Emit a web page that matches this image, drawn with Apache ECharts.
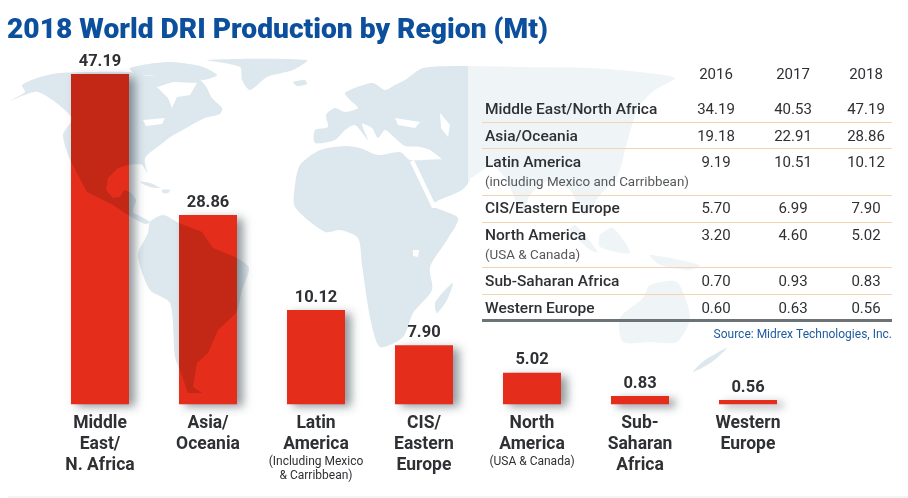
<!DOCTYPE html>
<html><head><meta charset="utf-8">
<script src="https://cdn.jsdelivr.net/npm/echarts@6/dist/echarts.min.js"></script>
<style>html,body{margin:0;padding:0;background:#fff}#c{width:908px;height:498px}</style></head>
<body><div id="c"></div>
<script>
// Bar chart content
const categories = [["Middle","East/","N. Africa"],["Asia/","Oceania"],["Latin","America"],["CIS/","Eastern","Europe"],["North","America"],["Sub-","Saharan","Africa"],["Western","Europe"]];
const categoryNotes = [[],[],["(Including Mexico","& Carribbean)"],[],["(USA & Canada)"],[],[]];
const printedValues = ["47.19","28.86","10.12","7.90","5.02","0.83","0.56"];
// The source's bars are not proportional to their printed values: these are the bar
// lengths as drawn, expressed on the scale of the tallest bar.
const drawnLengths = [47.19,27.05,13.48,8.44,4.52,1.19,0.61];

// Table content
const years = ["2016","2017","2018"];
const rowLabels = ["Middle East/North Africa","Asia/Oceania","Latin America","CIS/Eastern Europe","North America","Sub-Saharan Africa","Western Europe"];
const rowNotes = ["","","(including Mexico and Carribbean)","","(USA & Canada)","",""];
const values2016 = ["34.19","19.18","9.19","5.70","3.20","0.70","0.60"];
const values2017 = ["40.53","22.91","10.51","6.99","4.60","0.93","0.63"];
const values2018 = ["47.19","28.86","10.12","7.90","5.02","0.83","0.56"];

// Layout and style
const FONT = "Roboto";
const INK = "#2e3033";
const rowY = [110,137,163,209,236,282,309], noteY = [0,0,183,0,256,0,0];
const ruleY = [122,148,195,222,267,294];
const colX = [716,793,866];
// Decorative backdrop outlines (pixel sketch of the world map)
const land = [
 [[10,101],[25,92],[22,85],[40,77],[60,73],[90,72],[128,72],[150,76],[190,72],[205,85],[212,98],[222,108],[220,114],[205,118],[188,127],[172,136],[160,145],[145,158],[147,173],[142,165],[128,165],[118,168],[108,178],[106,190],[113,198],[120,197],[124,190],[130,192],[136,200],[133,212],[140,216],[150,222],[145,224],[128,215],[113,205],[87,192],[71,162],[63,135],[72,118],[38,92]],
 [[163,215],[179,223],[202,232],[213,248],[237,258],[249,268],[242,290],[236,313],[218,330],[208,353],[197,363],[193,387],[202,393],[188,393],[180,370],[175,357],[170,303],[150,290],[138,255],[148,233],[150,222]],
 [[130,68],[167,62],[200,66],[217,75],[203,80],[185,76],[160,76],[135,74]],
 [[207,60],[307,60],[293,70],[267,77],[250,90],[242,80],[240,67]],
 [[293,82],[305,80],[307,84],[297,86]],
 [[140,182],[150,183],[160,188],[150,187]],[[162,190],[170,190],[168,193],[163,193]],
 [[315,130],[328,127],[326,115],[335,108],[345,112],[358,108],[350,100],[345,93],[360,86],[373,83],[385,90],[395,85],[405,80],[423,68],[467,66],[520,67],[590,68],[640,72],[675,78],[655,90],[640,105],[632,125],[625,150],[618,175],[600,195],[585,215],[570,190],[550,180],[530,195],[523,213],[505,178],[492,165],[480,172],[470,178],[447,163],[430,150],[420,147],[405,146],[395,138],[385,130],[378,138],[372,128],[362,124],[368,140],[355,125],[345,130],[335,140],[315,143]],
 [[295,185],[300,165],[320,150],[345,146],[360,148],[378,155],[400,152],[410,160],[447,160],[470,178],[462,190],[432,205],[458,218],[447,240],[430,267],[432,290],[413,313],[403,337],[380,347],[370,317],[362,265],[358,238],[340,230],[325,232],[295,207]],
 [[453,283],[447,300],[437,313],[435,303],[445,290]],
 [[613,228],[630,253],[600,247],[600,235]],[[575,225],[598,252],[590,250],[570,230]],
 [[650,255],[700,265],[690,270],[660,265]],
 [[677,282],[690,318],[677,342],[650,342],[623,342],[620,318],[643,298],[650,285]],
 [[727,348],[712,362],[693,372],[705,360]]
];
const water = [
 [[157,87],[173,82],[197,83],[190,95],[177,97],[172,108],[168,98]],
 [[395,118],[420,122],[415,128],[398,125]],[[440,113],[450,125],[448,137],[441,128]],
 [[410,162],[414,160],[437,208],[432,208]],
 [[143,120],[165,118],[162,124],[146,126]],
 [[413,250],[419,250],[418,257],[413,256]]
];

function poly(points, fill, z, smooth){
  return {type:"polygon",silent:true,z:z,shape:{points:points,smooth:smooth||0},style:{fill:fill}};
}
function txt(text,x,y,size,weight,fill,align){
  return {type:"text",silent:true,z:6,x:x,y:y,style:{text:text,fontFamily:FONT,fontSize:size,fontWeight:weight,fill:fill,align:align||"left",verticalAlign:"middle"}};
}
function clipToRect(pts,r){
  const edges=[[p=>p[0]>=r.x0,(a,b)=>{const t=(r.x0-a[0])/(b[0]-a[0]);return [r.x0,a[1]+t*(b[1]-a[1])]}],
    [p=>p[0]<=r.x1,(a,b)=>{const t=(r.x1-a[0])/(b[0]-a[0]);return [r.x1,a[1]+t*(b[1]-a[1])]}],
    [p=>p[1]>=r.y0,(a,b)=>{const t=(r.y0-a[1])/(b[1]-a[1]);return [a[0]+t*(b[0]-a[0]),r.y0]}],
    [p=>p[1]<=r.y1,(a,b)=>{const t=(r.y1-a[1])/(b[1]-a[1]);return [a[0]+t*(b[0]-a[0]),r.y1]}]];
  let out=pts;
  edges.forEach(([inside,cut])=>{
    const res=[];
    out.forEach((p,i)=>{const q=out[(i+1)%out.length];
      if(inside(p)){res.push(p); if(!inside(q))res.push(cut(p,q));}
      else if(inside(q))res.push(cut(p,q));});
    out=res;
  });
  return out;
}

const backdrop = [];
land.forEach(p=>backdrop.push(poly(p,"#dce8ed",0,0.25)));
water.forEach(p=>backdrop.push(poly(p,"#ffffff",0,0)));
backdrop.push({type:"rect",silent:true,z:1,shape:{x:468,y:64,width:440,height:282},style:{fill:"rgba(255,255,255,0.55)"}});
backdrop.push({type:"line",silent:true,z:1,shape:{x1:8,y1:497,x2:908,y2:497},style:{stroke:"#e8ebec",lineWidth:1}});

const table = [];
years.forEach((y,i)=>table.push(txt(y,colX[i],75,15,400,INK,"center")));
rowLabels.forEach((l,i)=>{
  table.push(txt(l,485,rowY[i],15.5,500,INK));
  if(rowNotes[i]) table.push(txt(rowNotes[i],485,noteY[i],13.4,400,"#55585b"));
  [values2016,values2017,values2018].forEach((col,c)=>table.push(txt(col[i],colX[c],rowY[i],15,400,INK,"center")));
});
ruleY.forEach(y=>table.push({type:"line",silent:true,z:6,shape:{x1:482,y1:y+0.5,x2:892,y2:y+0.5},style:{stroke:"#f3d3b0",lineWidth:1}}));
table.push({type:"rect",silent:true,z:6,shape:{x:482,y:319,width:410,height:3},style:{fill:"#6c7377"}});
table.push(txt("Source: Midrex Technologies, Inc.",892,335,12,400,"#1d5a9e","right"));

const chart = echarts.init(document.getElementById("c"),null,{renderer:"canvas"});
chart.setOption({
  animation:false,
  backgroundColor:"#fff",
  title:{text:"2018 World DRI Production by Region (Mt)",left:7,top:17,padding:0,
    textStyle:{fontFamily:FONT,fontSize:28.2,fontWeight:900,color:"#0b4f9d"}},
  grid:{left:46,width:756,top:74,height:330.3,containLabel:false},
  xAxis:{type:"category",data:categories.map(c=>c.join(" ")),
    axisLine:{show:false},axisTick:{show:false},
    axisLabel:{interval:0,margin:9,
      formatter:(v,i)=>categories[i].map(s=>"{m|"+s+"}").concat(categoryNotes[i].map(s=>"{s|"+s+"}")).join("\n"),
      rich:{m:{fontFamily:FONT,fontSize:17.5,fontWeight:700,color:INK,lineHeight:21,align:"center"},
            s:{fontFamily:FONT,fontSize:12,fontWeight:400,color:INK,lineHeight:14,align:"center"}}}},
  yAxis:{type:"value",show:false,min:0,max:47.19,splitLine:{show:false}},
  series:[{type:"bar",data:drawnLengths,barWidth:58,z:2,
    itemStyle:{color:"#e52d1b",shadowColor:"rgba(35,50,60,0.5)",shadowBlur:9,shadowOffsetX:6,shadowOffsetY:3},
    label:{show:true,position:"top",distance:4,formatter:p=>printedValues[p.dataIndex],
      fontFamily:FONT,fontSize:16.5,fontWeight:700,color:INK}}]
});

// Map showing through the bars: same outlines, clipped to each bar's rectangle
const through = [];
const half = 29;
drawnLengths.forEach((v,i)=>{
  const top = chart.convertToPixel({seriesIndex:0},[i,v]);
  const base = chart.convertToPixel({seriesIndex:0},[i,0]);
  const r = {x0:top[0]-half,x1:top[0]+half,y0:top[1],y1:base[1]};
  land.forEach(p=>{const c=clipToRect(p,r); if(c.length>2) through.push(poly(c,"#c22815",5));});
});
chart.setOption({graphic:{elements:backdrop.concat(through,table)}});
</script></body></html>
